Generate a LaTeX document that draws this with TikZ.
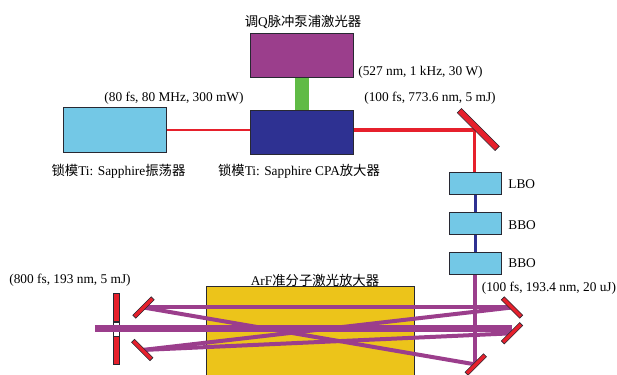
\documentclass[tikz,border=0pt]{standalone}
\usepackage{fontspec}
\setmainfont{Liberation Serif}
\newfontfamily\cjk{Noto Sans CJK SC}
\usepackage{xcolor}
\usepackage{tikz}
\usetikzlibrary{backgrounds}
\definecolor{myred}{RGB}{230,32,44}
\definecolor{mydark}{RGB}{40,40,50}
\definecolor{mypurple}{RGB}{155,62,140}
\definecolor{myblue}{RGB}{46,49,146}
\definecolor{mysky}{RGB}{115,200,230}
\definecolor{mygold}{RGB}{236,196,26}
\definecolor{mygreen}{RGB}{96,187,70}
\tikzset{
  box/.style={rectangle, draw=mydark, line width=0.5pt, inner sep=0pt,
    minimum width=2.06cm, minimum height=0.89cm},
  crystal/.style={rectangle, draw=mydark, fill=mysky, line width=0.5pt, inner sep=0pt,
    minimum width=1.03cm, minimum height=0.44cm},
  mirror/.style={rectangle, draw=mydark, fill=myred, line width=0.35pt, inner sep=0pt,
    minimum width=0.52cm, minimum height=0.085cm},
  beam/.style={color=mypurple, line width=0.08cm},
  label/.style={font=\fontsize{7.6}{9}\selectfont, inner sep=0pt}
}

\begin{document}
\begin{tikzpicture}[every node/.style={label}]
  \useasboundingbox (0,0) rectangle (12.34,7.5);

  % Lasers
  \node[box, fill=mypurple] (pump) at (6.044,6.394) {};
  \node[box, fill=myblue] (cpa) at (6.044,4.854) {};
  \node[box, fill=mysky] (osc) at (2.30,4.906) {};
  \node (pumplabel) at (6.06,7.07) {{\cjk 调}Q{\cjk 脉冲泵浦激光器}};
  \node[anchor=west] (pumpspec) at (7.16,6.05) {(527 nm, 1 kHz, 30 W)};
  \node (oscspec) at (3.48,5.53) {(80 fs, 80 MHz, 300 mW)};
  \node (cpaspec) at (8.60,5.53) {(100 fs, 773.6 nm, 5 mJ)};
  \node (osclabel) at (2.37,4.08) {{\cjk 锁模}Ti: Sapphire{\cjk 振荡器}};
  \node (cpalabel) at (5.98,4.08) {{\cjk 锁模}Ti: Sapphire CPA{\cjk 放大器}};

  % Crystals
  \node[crystal] (lbo) at (9.51,3.834) {};
  \node[crystal] (bboa) at (9.51,3.04) {};
  \node[crystal] (bbob) at (9.51,2.24) {};
  \node[anchor=west] (lbolabel) at (10.16,3.82) {LBO};
  \node[anchor=west] (bboalabel) at (10.16,3.00) {BBO};
  \node[anchor=west] (bboblabel) at (10.16,2.24) {BBO};

  % Mirrors
  \node[mirror, minimum width=1.07cm, minimum height=0.12cm, rotate=-45] (fold) at (9.566,4.91) {};
  \node[mirror, rotate=45] (ul) at (2.87,1.35) {};
  \node[mirror, rotate=-45] (ll) at (2.846,0.50) {};
  \node[mirror, rotate=-45] (ur) at (10.24,1.35) {};
  \node[mirror, rotate=45] (mr) at (10.24,0.834) {};
  \node[mirror, rotate=45] (br) at (9.516,0.21) {};
  \coordinate (foldpt) at (9.494,4.90);
  \coordinate (mainl) at (1.90,0.926);
  \coordinate (mainr) at (10.234,0.926);

  % Amplifier and labels
  \node (arflabel) at (6.30,1.90) {ArF{\cjk 准分子激光放大器}};
  \node (outspec) at (1.40,1.90) {(800 fs, 193 nm, 5 mJ)};
  \node (inspec) at (10.98,1.73) {(100 fs, 193.4 nm, 20 uJ)};

  % Beams
  \begin{scope}[on background layer]
    \node[box, fill=mygold, minimum width=4.17cm, minimum height=1.88cm] (arf) at (6.21,0.84) {};
    \node[mirror, minimum width=0.12cm, minimum height=0.574cm] (splita) at (2.326,1.354) {};
    \node[mirror, minimum width=0.12cm, minimum height=0.566cm] (splitb) at (2.326,0.50) {};
    \node[mirror, fill=white, minimum width=0.12cm, minimum height=0.286cm] (hole) at (2.326,0.92) {};
    \draw[color=mygreen, line width=0.274cm] (pump.south) -- (cpa.north);
    \draw[color=myred, line width=0.035cm] (osc.east) -- (osc.east -| cpa.west);
    \draw[color=myred, line width=0.085cm] (foldpt -| cpa.east) -- (foldpt);
    \draw[color=myred, line width=0.065cm] (foldpt) -- (foldpt |- lbo.north);
    \draw[color=myblue, line width=0.07cm] (lbo.south) -- (bboa.north);
    \draw[color=myblue, line width=0.07cm] (bboa.south) -- (bbob.north);
    \draw[beam] (bbob.south) -- (bbob.south |- br.center);
    \draw[beam, line width=0.13cm] (mainl) -- (mainr);
    \draw[beam] (ul.center) -- (ur.center);
    \draw[beam] (ul.center) -- (br.center);
    \draw[beam] (ll.center) -- (ur.center);
    \draw[beam] (ll.center) -- (mr.center);
  \end{scope}
\end{tikzpicture}
\end{document}
